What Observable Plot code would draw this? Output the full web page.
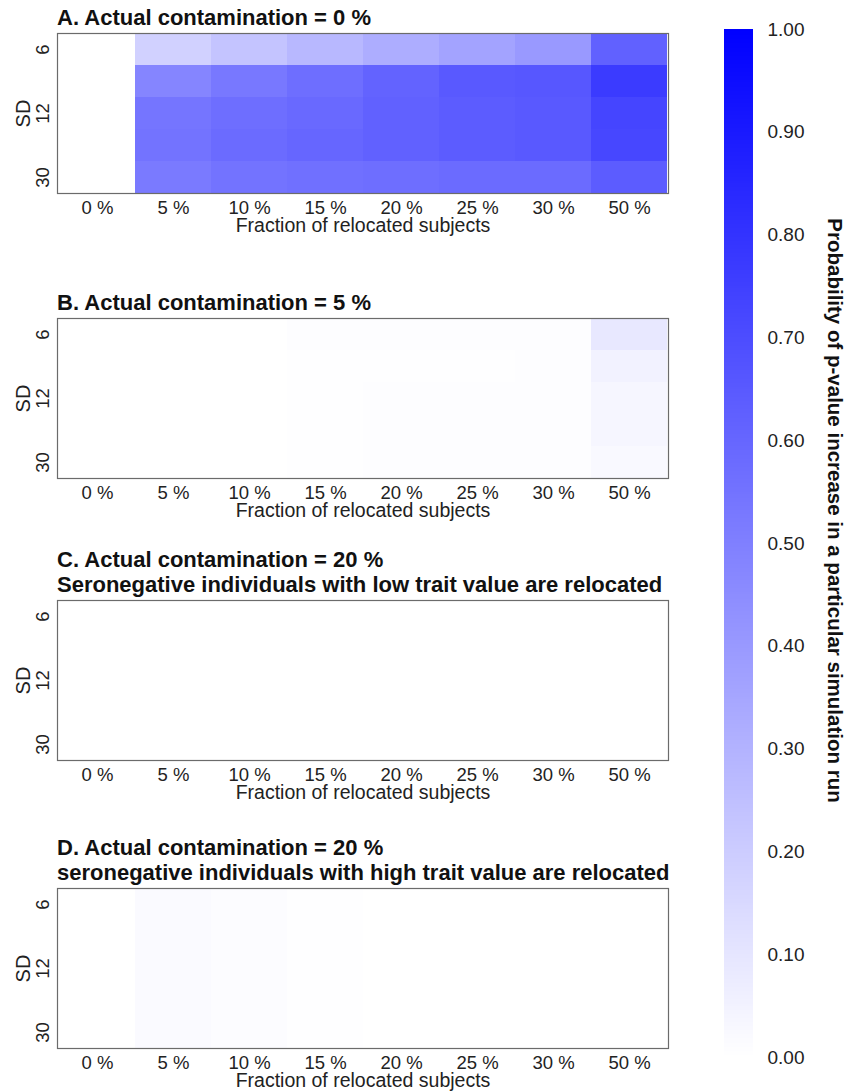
<!DOCTYPE html>
<html>
<head>
<meta charset="utf-8">
<script src="https://cdn.jsdelivr.net/npm/d3@7"></script>
<script src="https://cdn.jsdelivr.net/npm/@observablehq/plot@0.6"></script>
<style>
  body { margin: 0; background: #fff; }
  #root { position: relative; width: 848px; height: 1092px; font-family: "Liberation Sans", Arial, sans-serif; color: #111; overflow: hidden; }
  .ttl { position: absolute; left: 57px; font-weight: bold; font-size: 22px; line-height: 24.5px; white-space: nowrap; color: #111; }
  .pnl { position: absolute; left: 0; }
</style>
</head>
<body>
<div id="root"></div>
<script>
// ---------- data ----------
const xCats = ["0 %", "5 %", "10 %", "15 %", "20 %", "25 %", "30 %", "50 %"];
const sdLevels = ["6", "9", "12", "18", "30"];
const sdTickLabels = ["6", "12", "30"];
const xAxisTitle = "Fraction of relocated subjects";
const yAxisTitle = "SD";

// rows = sdLevels (top to bottom), columns = xCats
const panelA = [
  [0, 0.18, 0.23, 0.28, 0.32, 0.36, 0.40, 0.62],
  [0, 0.48, 0.53, 0.57, 0.61, 0.65, 0.66, 0.77],
  [0, 0.54, 0.57, 0.59, 0.62, 0.64, 0.65, 0.73],
  [0, 0.55, 0.58, 0.60, 0.62, 0.64, 0.65, 0.72],
  [0, 0.52, 0.55, 0.56, 0.57, 0.58, 0.58, 0.64]
];
const panelB = [
  [0, 0, 0, 0.006, 0.006, 0.006, 0.008, 0.09],
  [0, 0, 0, 0.003, 0.003, 0.004, 0.006, 0.05],
  [0, 0, 0, 0.003, 0.007, 0.007, 0.008, 0.035],
  [0, 0, 0, 0.003, 0.007, 0.007, 0.008, 0.035],
  [0, 0, 0, 0.003, 0.007, 0.007, 0.008, 0.025]
];
const panelC = [
  [0, 0, 0, 0, 0, 0, 0, 0],
  [0, 0, 0, 0, 0, 0, 0, 0],
  [0, 0, 0, 0, 0, 0, 0, 0],
  [0, 0, 0, 0, 0, 0, 0, 0],
  [0, 0, 0, 0, 0, 0, 0, 0]
];
const panelD = [
  [0, 0.02, 0.01, 0.004, 0, 0, 0, 0],
  [0, 0.02, 0.013, 0.004, 0, 0, 0, 0],
  [0, 0.02, 0.013, 0.004, 0, 0, 0, 0],
  [0, 0.02, 0.013, 0.004, 0, 0, 0, 0],
  [0, 0.02, 0.013, 0.004, 0, 0, 0, 0]
];
const panelTitles = [
  ["A. Actual contamination = 0 %"],
  ["B. Actual contamination = 5 %"],
  ["C. Actual contamination = 20 %", "Seronegative individuals with low trait value are relocated"],
  ["D. Actual contamination = 20 %", "seronegative individuals with high trait value are relocated"]
];
const legendTicks = [0, 0.1, 0.2, 0.3, 0.4, 0.5, 0.6, 0.7, 0.8, 0.9, 1.0];
const legendTitle = "Probability of p-value increase in a particular simulation run";

// ---------- layout ----------
const FONT = "'Liberation Sans', Arial, sans-serif";
const frameTops = [33, 318, 600, 888];
const frameH = 160;
const colorScale = {type: "linear", domain: [0, 1], range: ["#ffffff", "#0000ff"], interpolate: "rgb"};
const root = document.getElementById("root");

function panelPlot(values) {
  const data = sdLevels.flatMap((sd, i) => xCats.map((x, j) => ({sd, x, v: values[i][j]})));
  return Plot.plot({
    width: 690,
    height: 2 + frameH + 52,
    marginTop: 2, marginBottom: 52, marginLeft: 57, marginRight: 22,
    x: {domain: xCats, padding: 0, axis: null},
    y: {domain: sdLevels, padding: 0, axis: null},
    color: colorScale,
    style: {fontFamily: FONT, fontSize: "18.5px", color: "#1a1a1a", background: "transparent", overflow: "visible"},
    marks: [
      Plot.cell(data, {x: "x", y: "sd", fill: "v", inset: 0, shapeRendering: "crispEdges"}),
      Plot.frame({stroke: "#6b6b6b", strokeWidth: 1.2}),
      Plot.text(xCats, {x: d => d, text: d => d, frameAnchor: "bottom", dy: 15, textAnchor: "middle", lineAnchor: "middle", fill: "#222"}),
      Plot.text([xAxisTitle], {text: d => d, frameAnchor: "bottom", dy: 32, textAnchor: "middle", lineAnchor: "middle", fontSize: 19.5, fill: "#222"}),
      Plot.text(sdTickLabels, {y: d => d, text: d => d, frameAnchor: "left", dx: -14, rotate: -90, textAnchor: "middle", lineAnchor: "middle", fill: "#222"}),
      Plot.text([yAxisTitle], {text: d => d, frameAnchor: "left", dx: -34, rotate: -90, textAnchor: "middle", lineAnchor: "middle", fontSize: 20, fill: "#222"})
    ]
  });
}

[panelA, panelB, panelC, panelD].forEach((vals, k) => {
  const lines = panelTitles[k];
  const t = document.createElement("div");
  t.className = "ttl";
  t.innerHTML = lines.join("<br>");
  t.style.top = (frameTops[k] - 15 - 12.25 - 24.5 * (lines.length - 1)) + "px";
  root.appendChild(t);
  const p = panelPlot(vals);
  p.classList.add("pnl");
  p.style.top = (frameTops[k] - 2) + "px";
  root.appendChild(p);
});

// ---------- color legend ----------
const step = 0.002;
const gradSteps = d3.range(0, 1, step);
const legend = Plot.plot({
  width: 148, height: 1092,
  marginTop: 29, marginBottom: 35, marginLeft: 24, marginRight: 95,
  x: {domain: [0, 1], axis: null},
  y: {domain: [0, 1], axis: null},
  color: colorScale,
  style: {fontFamily: FONT, fontSize: "19px", color: "#1a1a1a", background: "transparent", overflow: "visible"},
  marks: [
    Plot.rect(gradSteps, {x1: 0, x2: 1, y1: d => d, y2: d => d + step, fill: d => d + step / 2, shapeRendering: "crispEdges"}),
    Plot.text(legendTicks, {y: d => d, text: d => d.toFixed(2), frameAnchor: "right", dx: 14, textAnchor: "start", lineAnchor: "middle", fill: "#222"}),
    Plot.text([legendTitle], {text: d => d, frameAnchor: "right", dx: 81, dy: -33, rotate: 90, textAnchor: "middle", lineAnchor: "middle", fontWeight: "bold", fontSize: 20.5, fill: "#111"})
  ]
});
legend.classList.add("pnl");
legend.style.left = "700px";
legend.style.top = "0px";
root.appendChild(legend);
</script>
</body>
</html>
